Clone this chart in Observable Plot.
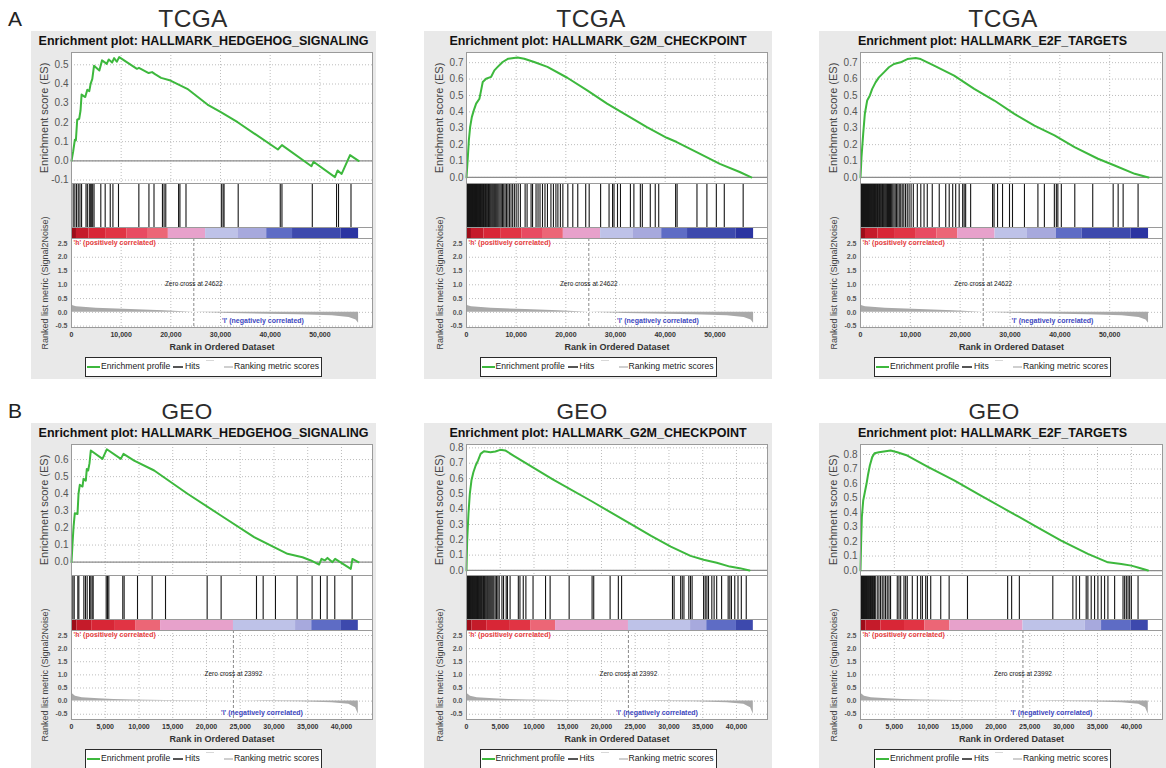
<!DOCTYPE html>
<html>
<head>
<meta charset="utf-8">
<script src="https://cdn.jsdelivr.net/npm/d3@7"></script>
<script src="https://cdn.jsdelivr.net/npm/@observablehq/plot@0.6"></script>
<style>
html,body{margin:0;padding:0;background:#fff;}
body{width:1166px;height:768px;overflow:hidden;position:relative;font-family:"Liberation Sans",Arial,Helvetica,sans-serif;}
.ctr{position:absolute;transform:translate(-50%,-50%);line-height:1;white-space:nowrap;}
.panel{position:absolute;background:#e9e9e9;}
.plotbox{position:absolute;}
.legend{position:absolute;background:#fff;border:1.5px solid #2a2a2a;box-sizing:border-box;height:20px;width:237px;font-size:8.6px;color:#1a1a1a;}
.legend span{position:absolute;white-space:nowrap;line-height:1;}
</style>
</head>
<body>
<script>
// ===================== DATA =====================
const panelLetters = ["A", "B"];
const datasetNames = ["TCGA", "GEO"];
const plotTitles = [
  "Enrichment plot: HALLMARK_HEDGEHOG_SIGNALING",
  "Enrichment plot: HALLMARK_G2M_CHECKPOINT",
  "Enrichment plot: HALLMARK_E2F_TARGETS"
];
const zeroCrossRanks = [24622, 23992];
const rankTicksTCGA = [0, 10000, 20000, 30000, 40000, 50000];
const rankTicksGEO = [0, 5000, 10000, 15000, 20000, 25000, 30000, 35000, 40000];
const metricTicks = [-0.5, 0, 0.5, 1, 1.5, 2, 2.5];
const esTicksHedgehogTCGA = [-0.1, 0, 0.1, 0.2, 0.3, 0.4, 0.5];
const esTicksTo07 = [0, 0.1, 0.2, 0.3, 0.4, 0.5, 0.6, 0.7];
const esTicksTo06 = [0, 0.1, 0.2, 0.3, 0.4, 0.5, 0.6];
const esTicksTo08 = [0, 0.1, 0.2, 0.3, 0.4, 0.5, 0.6, 0.7, 0.8];

// running enrichment score: [rank, ES]
const esTcgaHedgehog = [[0,0],[340,0.05],[680,0.11],[880,0.106],[1150,0.214],[1550,0.219],[1820,0.262],[2030,0.345],[2770,0.332],[3180,0.37],[3580,0.363],[3850,0.401],[4190,0.427],[4530,0.495],[5610,0.47],[6150,0.523],[7100,0.505],[7500,0.528],[8180,0.512],[8580,0.535],[9120,0.516],[9600,0.54],[13180,0.479],[13580,0.484],[15540,0.457],[16220,0.462],[16890,0.45],[18040,0.432],[19930,0.418],[23310,0.375],[27370,0.293],[30070,0.253],[33450,0.201],[41550,0.059],[42370,0.082],[48310,-0.028],[48720,-0.005],[53040,-0.085],[53580,-0.05],[54390,-0.068],[56080,0.03],[57800,0.0]];
const esTcgaG2M = [[0,0],[270,0.124],[470,0.226],[730,0.307],[1070,0.368],[1470,0.409],[1940,0.45],[2600,0.48],[2940,0.531],[3270,0.582],[3940,0.602],[4940,0.613],[5610,0.653],[6280,0.674],[7280,0.704],[8410,0.724],[10280,0.731],[11620,0.724],[13620,0.704],[16290,0.674],[20290,0.608],[24300,0.531],[28300,0.45],[32310,0.379],[36320,0.307],[40320,0.242],[42320,0.216],[46330,0.155],[51000,0.083],[55010,0.033],[57340,0.0]];
const esTcgaE2F = [[0,0],[200,0.124],[540,0.266],[870,0.388],[1340,0.469],[1880,0.5],[2350,0.54],[3020,0.58],[3690,0.61],[4700,0.641],[5700,0.672],[6710,0.692],[8050,0.702],[9400,0.722],[11070,0.728],[12080,0.722],[14770,0.682],[18790,0.621],[22820,0.54],[26850,0.469],[30870,0.388],[34900,0.316],[38930,0.256],[42950,0.185],[47650,0.114],[51000,0.073],[55030,0.022],[57800,0.0]];
const esGeoHedgehog = [[0,0],[150,0.107],[300,0.205],[490,0.286],[890,0.282],[1040,0.4],[1230,0.452],[1630,0.442],[1780,0.487],[2120,0.477],[2270,0.545],[2470,0.536],[2670,0.579],[2860,0.653],[4590,0.604],[5230,0.66],[7310,0.604],[7700,0.633],[9280,0.594],[12250,0.536],[17190,0.4],[22130,0.273],[27060,0.146],[32000,0.049],[34220,0.029],[35460,0.01],[36690,-0.014],[37040,0.019],[37530,0.01],[37930,0.025],[38670,0.0],[39060,0.019],[41380,-0.039],[41630,0.019],[42500,0.0]];
const esGeoG2M = [[0,0],[100,0.196],[290,0.37],[490,0.5],[730,0.587],[1020,0.641],[1360,0.685],[1700,0.717],[2090,0.761],[2580,0.778],[3550,0.772],[4280,0.776],[5000,0.787],[5730,0.783],[6950,0.75],[12780,0.595],[18610,0.45],[24440,0.3],[27360,0.225],[30270,0.155],[33190,0.095],[35130,0.07],[37080,0.05],[39020,0.025],[40480,0.015],[41930,0.0]];
const esGeoE2F = [[0,0],[100,0.207],[200,0.368],[400,0.483],[640,0.54],[890,0.598],[1090,0.655],[1380,0.724],[1730,0.782],[2070,0.809],[2720,0.816],[3460,0.821],[4440,0.828],[5430,0.816],[6910,0.793],[9880,0.717],[13830,0.621],[17780,0.517],[21730,0.414],[25680,0.31],[29630,0.207],[33580,0.115],[36540,0.057],[38520,0.046],[40000,0.034],[41230,0.018],[42470,0.0]];

// hit ranks
const hitsTcgaHedgehog = [340,680,1020,1360,1700,2030,2920,3190,3590,3860,4070,4270,4540,5900,6780,7800,8340,9460,13560,15590,16610,18310,18640,18980,21560,21830,23050,30170,30510,30710,33560,42030,42370,48480,53360,53760,56270];
const hitsTcgaG2M = [60,130,210,280,350,430,500,580,650,730,800,880,960,1040,1120,1200,1290,1370,1460,1540,1630,1720,1810,1900,2000,2090,2190,2290,2390,2500,2600,2710,2820,2940,3060,3180,3300,3430,3560,3700,3840,3980,4130,4280,4440,4600,4770,4940,5120,5300,5490,5680,5880,6090,6300,6520,6750,6990,7240,7500,7770,8050,8340,8640,8960,9290,9640,10000,10400,10850,11800,12200,13000,13300,14000,14400,14800,15300,15800,16300,17000,17500,18000,18400,18900,19400,20400,21400,22400,24000,24700,27000,28700,29400,29700,30400,31000,33000,33700,35000,35400,37000,38000,38700,42100,42400,46400,48400,50300,51900,55700];
const hitsTcgaE2F = [40,100,170,230,300,360,430,490,560,620,690,760,830,900,970,1040,1110,1190,1270,1350,1430,1510,1600,1690,1780,1870,1960,2060,2160,2260,2360,2470,2580,2690,2800,2920,3040,3160,3290,3420,3550,3690,3830,3970,4120,4270,4420,4580,4740,4900,5070,5250,5430,5620,5820,6030,6250,6480,6720,6970,7230,7500,7780,8070,8370,8690,9030,9380,9750,10150,10600,11400,12100,12750,13400,14400,15800,17100,17800,18500,19100,19800,20500,20800,21100,22100,26500,26800,27500,28500,29900,30500,32900,35600,36900,38900,39300,39600,40300,43000,46600,50700,51700,52700,55700];
const hitsGeoHedgehog = [200,400,940,1090,1830,2070,2320,2670,2860,3060,3210,5140,5330,5530,7600,7800,9780,11950,13930,20100,22170,27410,28400,30220,33430,35650,36890,37880,39010,41580];
const hitsGeoG2M = [30,100,170,240,300,370,440,500,570,640,700,780,850,920,1000,1080,1150,1230,1300,1380,1460,1550,1630,1720,1800,1900,2000,2100,2200,2300,2420,2530,2650,2770,2900,3030,3150,3300,3450,3600,3750,3900,4050,4250,4450,4650,4850,5250,5490,5880,6070,6460,7680,7920,8410,8800,9860,11710,12390,15210,18610,18850,21280,22500,22980,30520,30760,31730,31970,32220,32940,33190,33430,35130,35370,35620,35860,36350,36690,37070,37800,38770,39020,39260,39750,40230,40720,41450];
const hitsGeoE2F = [20,80,140,200,260,320,380,440,500,560,620,690,760,830,900,980,1060,1140,1220,1300,1390,1480,1570,1660,1760,1860,1960,2070,2180,2470,2720,2960,3210,3460,3700,3950,4200,4440,5430,5680,5930,6420,6670,6910,7650,8400,8890,9140,9630,9880,10370,11850,13090,15800,21730,22320,23460,28400,31360,31850,32350,33330,33580,34070,34570,35060,35560,36050,36540,37530,38770,39010,39260,39510,39750,40000,40990];

// ranked list metric (Signal2Noise): [rank, value]
const metricTCGA = [[0,0.29],[300,0.24],[1000,0.2],[1700,0.19],[5000,0.15],[11900,0.1],[18600,0.06],[24622,0.0],[26500,-0.01],[32000,-0.04],[45700,-0.09],[52500,-0.125],[55900,-0.19],[57300,-0.28],[57800,-0.4]];
const metricGEO = [[0,0.31],[590,0.19],[1580,0.125],[4050,0.09],[6270,0.06],[9000,0.04],[13900,0.025],[18900,0.012],[23992,0.0],[28700,-0.01],[33700,-0.025],[38600,-0.06],[41100,-0.12],[42100,-0.25],[42500,-0.5]];

// colour-bar segments of the ranked list: [startRank, endRank, correlation level]
const barTCGA = [[0,1000,1.0],[1000,3500,0.9],[3500,7000,0.8],[7000,11200,0.75],[11200,15300,0.7],[15300,19500,0.6],[19500,27000,0.3],[27000,33500,-0.3],[33500,39300,-0.45],[39300,44500,-0.7],[44500,54300,-0.85],[54300,57800,-1.0]];
const barGEO = [[0,800,1.0],[800,3000,0.9],[3000,6500,0.8],[6500,9500,0.75],[9500,13200,0.6],[13200,24000,0.3],[24000,33200,-0.3],[33200,35600,-0.45],[35600,40000,-0.7],[40000,42500,-0.85]];
const barLevels = [1.0, 0.9, 0.8, 0.75, 0.7, 0.6, 0.3, -0.3, -0.45, -0.7, -0.85, -1.0];

// ===================== STYLE / LAYOUT =====================
const barPalette = ["#9c0d19","#c51b2a","#d82636","#e13444","#e84b62","#ec6676","#e7a1cb","#bec2e8","#a7a9dd","#5e6cc5","#3d49ad","#2b34a1"];
const FONT = '"Liberation Sans", Arial, Helvetica, sans-serif';
const GRID = "#bdbdbd";
const FRAME = "#9a9a9a";
const ES_GREEN = "#3db83d";

const cols = [
  {left: 31, right: 376, fl: 71, fr: 372},
  {left: 424, right: 772, fl: 466, fr: 767},
  {left: 819, right: 1166, fl: 860, fr: 1162}
];
const baseY = {grayTop: 31, grayBottom: 379, title: 40.5, esTop: 52, esBottom: 183, hitsBottom: 227, barBottom: 238, metricBottom: 327, legendTop: 357};
const rowOffsets = [0, 392];
const headY = [18.5, 411.5];
const letterTop = [8, 400];

const datasets = [
  {metric: metricTCGA, bar: barTCGA, zero: zeroCrossRanks[0], xDomain: [0, 60600], xTicks: rankTicksTCGA, metricDomain: [-0.55, 2.68], neg: [30300, -0.29]},
  {metric: metricGEO, bar: barGEO, zero: zeroCrossRanks[1], xDomain: [0, 44600], xTicks: rankTicksGEO, metricDomain: [-0.70, 2.69], neg: [22150, -0.46]}
];
const panels = [
  {row: 0, col: 0, es: esTcgaHedgehog, hits: hitsTcgaHedgehog, esDomain: [-0.118, 0.564], esTicks: esTicksHedgehogTCGA, headCx: 193},
  {row: 0, col: 1, es: esTcgaG2M, hits: hitsTcgaG2M, esDomain: [-0.037, 0.762], esTicks: esTicksTo07, headCx: 591},
  {row: 0, col: 2, es: esTcgaE2F, hits: hitsTcgaE2F, esDomain: [-0.037, 0.762], esTicks: esTicksTo07, headCx: 1003},
  {row: 1, col: 0, es: esGeoHedgehog, hits: hitsGeoHedgehog, esDomain: [-0.078, 0.688], esTicks: esTicksTo06, headCx: 187},
  {row: 1, col: 1, es: esGeoG2M, hits: hitsGeoG2M, esDomain: [-0.033, 0.822], esTicks: esTicksTo08, headCx: 582},
  {row: 1, col: 2, es: esGeoE2F, hits: hitsGeoE2F, esDomain: [-0.034, 0.869], esTicks: esTicksTo08, headCx: 994}
];

// ===================== RENDER =====================
function addDiv(cls, css, text) {
  const d = document.createElement("div");
  if (cls) d.className = cls;
  Object.assign(d.style, css);
  if (text != null) d.textContent = text;
  document.body.appendChild(d);
  return d;
}
function place(svg, left, top) {
  const box = addDiv("plotbox", {left: left + "px", top: top + "px"});
  box.appendChild(svg);
}
const svgStyle = {background: "transparent", overflow: "visible", fontFamily: FONT};

// panel letters
panelLetters.forEach((L, i) => addDiv(null, {position: "absolute", left: "8px", top: letterTop[i] + "px", fontSize: "21px", lineHeight: "1", color: "#222"}, L));

panels.forEach(p => {
  const col = cols[p.col];
  const ds = datasets[p.row];
  const off = rowOffsets[p.row];
  const Y = {};
  for (const k in baseY) Y[k] = baseY[k] + off;
  const W = col.right - col.left;
  const mL = col.fl - col.left, mR = col.right - col.fr;
  const x0 = ds.xDomain[0];

  // grey panel background
  addDiv("panel", {left: col.left + "px", top: Y.grayTop + "px", width: W + "px", height: (Y.grayBottom - Y.grayTop) + "px"});
  // dataset heading
  addDiv("ctr", {left: p.headCx + "px", top: headY[p.row] + "px", fontSize: datasetNames[p.row] === "TCGA" ? "24.5px" : "22.5px", color: "#2c2c2c", letterSpacing: "0.3px"}, datasetNames[p.row]);
  // plot title
  addDiv("ctr", {left: (col.left + W / 2) + "px", top: Y.title + "px", fontSize: "12.5px", fontWeight: "bold", color: "#111"}, plotTitles[p.col]);

  // ---- enrichment score plot ----
  const esMT = 8, esMB = 1;
  const es = Plot.plot({
    width: W, height: (Y.esBottom - Y.esTop) + esMT + esMB,
    marginLeft: mL, marginRight: mR, marginTop: esMT, marginBottom: esMB,
    style: svgStyle,
    x: {domain: ds.xDomain, axis: null},
    y: {domain: p.esDomain, axis: null},
    marks: [
      Plot.frame({fill: "white", stroke: "none"}),
      Plot.ruleX(ds.xTicks.slice(1), {x: d => d, stroke: GRID, strokeDasharray: "1,2"}),
      Plot.ruleY(p.esTicks, {y: d => d, stroke: GRID, strokeDasharray: "1,2"}),
      Plot.ruleY([0], {y: d => d, stroke: "#8c8c8c", strokeWidth: 1.2}),
      Plot.line(p.es, {x: d => d[0], y: d => d[1], stroke: ES_GREEN, strokeWidth: 2}),
      Plot.frame({stroke: FRAME}),
      Plot.text(p.esTicks, {x: () => x0, y: d => d, text: d => d.toFixed(1), textAnchor: "end", dx: -3, fontSize: 10, fill: "#555"}),
      Plot.text(["Enrichment score (ES)"], {frameAnchor: "left", textAnchor: "middle", lineAnchor: "middle", rotate: -90, dx: -27, fontSize: 11, fill: "#444"})
    ]
  });
  place(es, col.left, Y.esTop - esMT);

  // ---- hits + colour bar ----
  const hb = Y.barBottom - Y.esBottom;
  const barFrac = (Y.barBottom - Y.hitsBottom) / hb;
  const hits = Plot.plot({
    width: W, height: hb,
    marginLeft: mL, marginRight: mR, marginTop: 0, marginBottom: 0,
    style: svgStyle,
    x: {domain: ds.xDomain, axis: null},
    y: {domain: [0, 1], axis: null},
    color: {type: "ordinal", domain: barLevels, range: barPalette},
    marks: [
      Plot.frame({fill: "white", stroke: "none"}),
      Plot.ruleX(p.hits, {x: d => d, y1: () => barFrac, y2: () => 1, stroke: "#161616", strokeWidth: 1.1}),
      Plot.rect(ds.bar, {x1: d => d[0], x2: d => d[1], y1: () => 0, y2: () => barFrac, fill: d => d[2]}),
      Plot.ruleY([barFrac], {y: d => d, stroke: FRAME}),
      Plot.frame({stroke: FRAME})
    ]
  });
  place(hits, col.left, Y.esBottom);

  // ---- ranked list metric ----
  const mMB = 26;
  const metric = Plot.plot({
    width: W, height: (Y.metricBottom - Y.barBottom) + mMB,
    marginLeft: mL, marginRight: mR, marginTop: 0, marginBottom: mMB,
    style: svgStyle,
    x: {domain: ds.xDomain, axis: null},
    y: {domain: ds.metricDomain, axis: null},
    marks: [
      Plot.frame({fill: "white", stroke: "none"}),
      Plot.ruleX(ds.xTicks.slice(1), {x: d => d, stroke: GRID, strokeDasharray: "1,2"}),
      Plot.ruleY(metricTicks, {y: d => d, stroke: GRID, strokeDasharray: "1,2"}),
      Plot.areaY(ds.metric, {x: d => d[0], y: d => d[1], fill: "#a9a9a9"}),
      Plot.ruleX([ds.zero], {x: d => d, stroke: "#8a8a8a", strokeDasharray: "3,2"}),
      Plot.text(["Zero cross at " + ds.zero], {x: () => ds.zero, y: () => 1.05, fontSize: 6.5, fill: "#222"}),
      Plot.text(["'h' (positively correlated)"], {frameAnchor: "top-left", lineAnchor: "top", textAnchor: "start", dx: 2, dy: 1.5, fontSize: 7, fontWeight: "bold", fill: "#e8413f"}),
      Plot.text(["'l' (negatively correlated)"], {x: () => ds.neg[0], y: () => ds.neg[1], textAnchor: "start", fontSize: 7, fontWeight: "bold", fill: "#3c46c0"}),
      Plot.frame({stroke: FRAME}),
      Plot.text(metricTicks, {x: () => x0, y: d => d, text: d => d.toFixed(1), textAnchor: "end", dx: -4, fontSize: 7, fontWeight: "bold", fill: "#555"}),
      Plot.text(ds.xTicks, {x: d => d, y: () => ds.metricDomain[0], text: d => d3.format(",")(d), dy: 7, fontSize: 7, fontWeight: "bold", fill: "#333"}),
      Plot.text(["Rank in Ordered Dataset"], {frameAnchor: "bottom", textAnchor: "middle", lineAnchor: "middle", dy: 19.5, fontSize: 9, fontWeight: "bold", fill: "#333"}),
      Plot.text(["Ranked list metric (Signal2Noise)"], {frameAnchor: "left", textAnchor: "middle", lineAnchor: "middle", rotate: -90, dx: -26, fontSize: 9, fill: "#444"})
    ]
  });
  place(metric, col.left, Y.barBottom);

  // ---- legend ----
  const lg = addDiv("legend", {left: (col.left + W / 2 - 118.5) + "px", top: Y.legendTop + "px"});
  const item = (css, text) => {
    const s = document.createElement("span");
    Object.assign(s.style, css);
    if (text) s.textContent = text;
    lg.appendChild(s);
  };
  item({left: "1px", top: "7.5px", width: "13px", height: "2px", background: ES_GREEN});
  item({left: "15px", top: "4px"}, "Enrichment profile");
  item({left: "87px", top: "7.5px", width: "10px", height: "2px", background: "#555"});
  item({left: "99px", top: "4px"}, "Hits");
  item({left: "120px", top: "2px", width: "8px", height: "1px", background: "#d8d8d8"});
  item({left: "138px", top: "7.5px", width: "9px", height: "2px", background: "#cfcfcf"});
  item({left: "148px", top: "4px"}, "Ranking metric scores");
});
</script>
</body>
</html>
